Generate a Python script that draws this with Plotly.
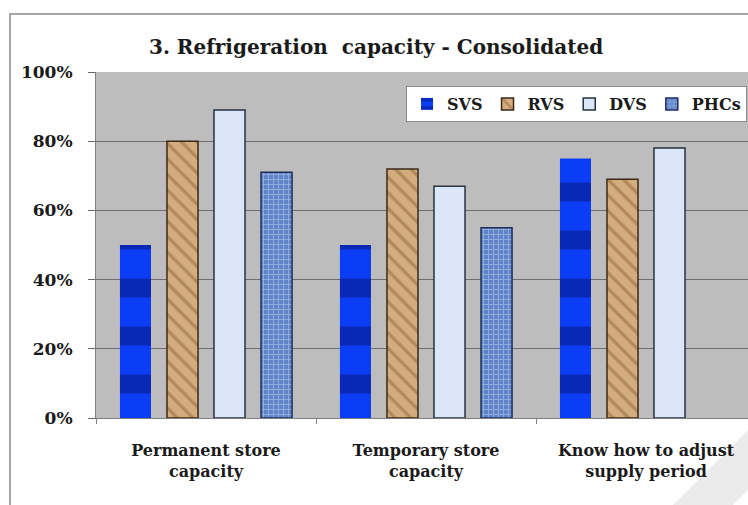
import plotly.graph_objects as go

# Chart data
categories = ["Permanent store<br>capacity", "Temporary store<br>capacity", "Know how to adjust<br>supply period"]
series_names = ["SVS", "RVS", "DVS", "PHCs"]
svs = [0.50, 0.50, 0.75]
rvs = [0.80, 0.72, 0.69]
dvs = [0.89, 0.67, 0.78]
phcs = [0.71, 0.55, None]
y_ticks = [0, 0.2, 0.4, 0.6, 0.8, 1.0]

W, H = 748, 505
L, R, T, B = 96, 0, 72, 87
PW, PH = W - L - R, H - T - B
CAT_PX = 220.0


def px_x(x):
    return (x - L) / PW


def px_y(y):
    return (H - B - y) / PH


SERIF = "DejaVu Serif"

fig = go.Figure()

fig.add_trace(go.Bar(
    name=series_names[0], x=categories, y=svs,
    marker=dict(color="#0a36f2", line=dict(width=0),
                pattern=dict(shape="-", fgcolor="#06167a", bgcolor="#0b3cf6",
                             size=48, solidity=0.4, fillmode="overlay")),
))
fig.add_trace(go.Bar(
    name=series_names[1], x=categories, y=rvs,
    marker=dict(color="#c9a070", line=dict(width=1.5, color="#3b2a18"),
                pattern=dict(shape="\\", fgcolor="#94663a", bgcolor="#d3ad7e",
                             size=11, solidity=0.3, fillmode="overlay")),
))
fig.add_trace(go.Bar(
    name=series_names[2], x=categories, y=dvs,
    marker=dict(color="#dbe7f8", line=dict(width=1.5, color="#26323f")),
))
fig.add_trace(go.Bar(
    name=series_names[3], x=categories, y=phcs,
    marker=dict(color="#6f92d2", line=dict(width=1.5, color="#1f2f5c"),
                pattern=dict(shape="+", fgcolor="#c6d6f2", bgcolor="#5f84c8",
                             size=5, solidity=0.35, fillmode="overlay")),
))

# outer chart frame and faint corner mark
shapes = [
    dict(type="path", xref="paper", yref="paper",
         path=f"M {px_x(748)},{px_y(430)} L {px_x(673)},{px_y(505)} L {px_x(733)},{px_y(505)} L {px_x(748)},{px_y(490)} Z",
         fillcolor="#ebebeb", line=dict(width=0), layer="below"),
    dict(type="path", xref="paper", yref="paper",
         path=f"M {px_x(10)},{px_y(505)} L {px_x(10)},{px_y(14)} L {px_x(748)},{px_y(14)}",
         line=dict(color="#a6a6a6", width=2), layer="above"),
]

fig.update_layout(
    width=W, height=H,
    margin=dict(l=L, r=R, t=T, b=B, pad=0, autoexpand=False),
    paper_bgcolor="white",
    plot_bgcolor="#bdbdbd",
    barmode="group",
    bargap=0.145,
    bargroupgap=0.34,
    font=dict(family=SERIF, color="#1a1a1a"),
    showlegend=True,
    legend=dict(
        orientation="h",
        x=px_x(406), y=px_y(86), xanchor="left", yanchor="top",
        bgcolor="white", bordercolor="#8a8a8a", borderwidth=1,
        font=dict(family=SERIF, size=16, color="#1a1a1a", weight="bold"),
        traceorder="normal",
    ),
    shapes=shapes,
    annotations=[dict(
        text="<b>3. Refrigeration  capacity - Consolidated</b>",
        xref="paper", yref="paper", x=px_x(376), y=px_y(47),
        xanchor="center", yanchor="middle", showarrow=False,
        font=dict(family=SERIF, size=20, color="#1a1a1a"),
    )],
)

fig.update_xaxes(
    range=[-0.5, -0.5 + PW / CAT_PX],
    showline=True, linecolor="#808080", linewidth=1,
    ticks="outside", tickson="boundaries", ticklen=5, tickcolor="#808080",
    tickfont=dict(family=SERIF, size=16, color="#1a1a1a", weight="bold"),
    ticklabelstandoff=18,
    showgrid=False, fixedrange=True,
)
fig.update_yaxes(
    range=[0, 1], tickvals=y_ticks, tickformat=".0%",
    showline=True, linecolor="#808080", linewidth=1,
    ticks="outside", ticklen=7, tickcolor="#666666",
    showgrid=True, gridcolor="#6e6e6e", gridwidth=1,
    zeroline=False,
    tickfont=dict(family=SERIF, size=17, color="#1a1a1a", weight="bold"),
    ticklabelstandoff=12,
    fixedrange=True,
)

fig.write_html("out.html")
